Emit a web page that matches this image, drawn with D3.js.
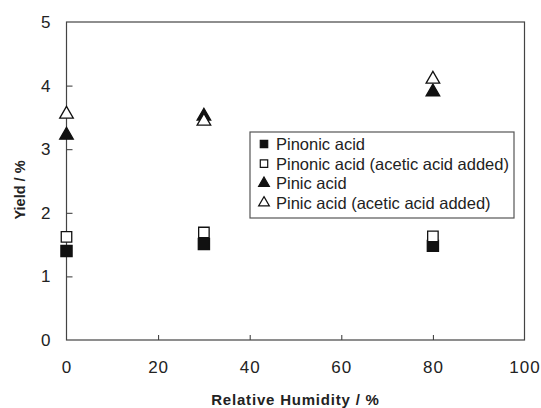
<!DOCTYPE html>
<html>
<head>
<meta charset="utf-8">
<script src="https://cdn.jsdelivr.net/npm/d3@7"></script>
<style>
body { margin: 0; background: #fff; }
svg text { font-family: Arial, "Liberation Sans", Helvetica, sans-serif; fill: #222; }
</style>
</head>
<body>
<div class="chart"></div>
<script>
// relative humidity (%)
var humidity = [0, 30, 80];
// yields (%)
var pinonic = [1.40, 1.51, 1.48];
var pinonicAcetic = [1.62, 1.69, 1.63];
var pinic = [3.22, 3.52, 3.90];
var pinicAcetic = [3.55, 3.44, 4.10];

var seriesNames = ["Pinonic acid", "Pinonic acid (acetic acid added)", "Pinic acid", "Pinic acid (acetic acid added)"];
var xTicks = [0, 20, 40, 60, 80, 100];
var yTicks = [0, 1, 2, 3, 4, 5];

var width = 541, height = 408;
var margin = {left: 66.5, top: 22, right: 16.5, bottom: 68};

var svg = d3.select(".chart").append("svg").attr("width", width).attr("height", height);

var x = d3.scaleLinear().domain([0, 100]).range([margin.left, width - margin.right]);
var y = d3.scaleLinear().domain([0, 5]).range([height - margin.bottom, margin.top]);

var series = [
    {name: seriesNames[0], values: pinonic, shape: d3.symbolSquare, fill: "#111", size: 125},
    {name: seriesNames[1], values: pinonicAcetic, shape: d3.symbolSquare, fill: "#fff", size: 110},
    {name: seriesNames[2], values: pinic, shape: d3.symbolTriangle, fill: "#111", size: 80},
    {name: seriesNames[3], values: pinicAcetic, shape: d3.symbolTriangle, fill: "#fff", size: 80}
];

// axes (ticks inside)
var gx = svg.append("g")
    .attr("transform", "translate(0," + y(0) + ")")
    .call(d3.axisBottom(x).tickValues(xTicks).tickFormat(d3.format("d")).tickSize(-5).tickPadding(21));
var gy = svg.append("g")
    .attr("transform", "translate(" + x(0) + ",0)")
    .call(d3.axisLeft(y).tickValues(yTicks).tickFormat(d3.format("d")).tickSize(-6).tickPadding(15));

[gx, gy].forEach(function (g) {
    g.select(".domain").remove();
    g.selectAll(".tick line").attr("stroke", "#333");
    g.selectAll(".tick text").style("font-size", "17px").style("letter-spacing", "1px").attr("fill", "#222");
});
// hide the end ticks that sit on the frame
gx.selectAll(".tick line").filter(function (d) { return d == 0 || d == 100; }).remove();
gy.selectAll(".tick line").filter(function (d) { return d == 0 || d == 5; }).remove();

// frame
svg.append("rect")
    .attr("x", x(0)).attr("y", y(5))
    .attr("width", x(100) - x(0)).attr("height", y(0) - y(5))
    .attr("fill", "none").attr("stroke", "#444").attr("stroke-width", 1.2);

// points
series.forEach(function (s) {
    svg.append("g").selectAll("path")
        .data(s.values)
        .enter().append("path")
        .attr("d", d3.symbol().type(s.shape).size(s.size))
        .attr("transform", function (d, i) { return "translate(" + x(humidity[i]) + "," + y(d) + ")"; })
        .attr("fill", s.fill)
        .attr("stroke", "#111")
        .attr("stroke-width", 1.3);
});

// legend
var legend = svg.append("g").attr("transform", "translate(250,132)");
legend.append("rect")
    .attr("width", 264).attr("height", 86)
    .attr("fill", "#fff").attr("stroke", "#555").attr("stroke-width", 1.2);
var item = legend.selectAll(".item").data(series).enter().append("g")
    .attr("class", "item")
    .attr("transform", function (d, i) { return "translate(0," + (12 + i * 19.6) + ")"; });
item.append("path")
    .attr("d", function (d) { return d3.symbol().type(d.shape).size(d.shape == d3.symbolSquare ? 55 : 50)(); })
    .attr("transform", "translate(14,0)")
    .attr("fill", function (d) { return d.fill; })
    .attr("stroke", "#111").attr("stroke-width", 1.2);
item.append("text")
    .attr("x", 26).attr("dy", "0.36em")
    .style("font-size", "16.5px")
    .text(function (d) { return d.name; });

// axis titles
svg.append("text")
    .attr("x", (x(0) + x(100)) / 2).attr("y", 405)
    .attr("text-anchor", "middle")
    .style("font-size", "15px").style("font-weight", "bold").style("letter-spacing", "0.8px")
    .text("Relative Humidity / %");
svg.append("text")
    .attr("transform", "translate(25,190) rotate(-90)")
    .attr("text-anchor", "middle")
    .style("font-size", "14.5px").style("font-weight", "bold")
    .text("Yield / %");
</script>
</body>
</html>
